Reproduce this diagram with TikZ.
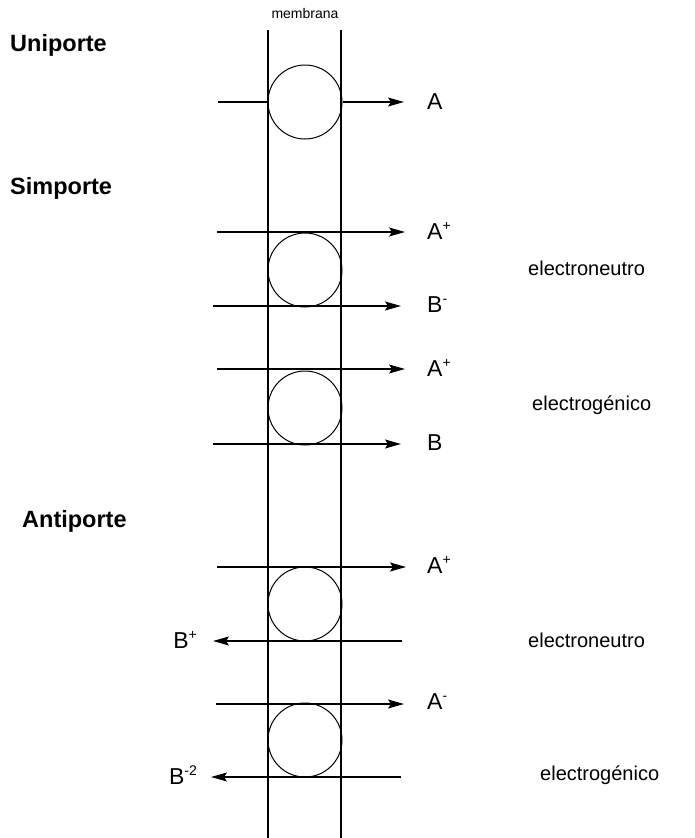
\documentclass[tikz,border=0pt]{standalone}
\usepackage{fontspec}
\setmainfont{Liberation Sans}
\usetikzlibrary{arrows.meta}
\newcommand\supx[1]{\raisebox{9.5pt}{\fontsize{14}{14}\selectfont #1}}
\begin{document}
\begin{tikzpicture}[x=1pt,y=-1pt,
  mem/.style={line width=1.2pt},
  carrier/.style={draw,circle,minimum size=74pt,inner sep=0pt,line width=1pt},
  flow/.style={line width=1.2pt,-{Stealth[length=16pt,width=9pt,inset=3pt]}},
  plain/.style={line width=1.2pt},
  ion/.style={font=\fontsize{23}{27}\selectfont,inner sep=0pt,anchor=west},
  head/.style={font=\bfseries\fontsize{23.5}{27}\selectfont,inner sep=0pt,anchor=west},
  kind/.style={font=\fontsize{20}{24}\selectfont,inner sep=0pt,anchor=west}]
\useasboundingbox (0,0) rectangle (694,838);

% membrane
\node[font=\fontsize{14}{16}\selectfont,inner sep=0pt] (mem) at (305,13) {membrana};
\coordinate (mlt) at (268,30); \coordinate (mlb) at (268,838);
\coordinate (mrt) at (341,30); \coordinate (mrb) at (341,838);
\draw[mem] (mlt) -- (mlb);
\draw[mem] (mrt) -- (mrb);

% headings
\node[head] (uni) at (10,45) {Uniporte};
\node[head] (sim) at (10,188) {Simporte};
\node[head] (anti) at (22,521) {Antiporte};

% carriers
\node[carrier] (c1) at (305,102) {};
\node[carrier] (c2) at (305,270) {};
\node[carrier] (c3) at (305,408) {};
\node[carrier] (c4) at (305,604) {};
\node[carrier] (c5) at (305,740) {};

% Uniporte
\node[ion] (l1) at (427,102) {A};
\coordinate (s1) at (218,102);
\coordinate (e1) at (404,102);
\draw[plain] (s1) -- (c1.west);
\draw[flow] (c1.east) -- (e1);

% Simporte electroneutro
\node[ion] (l2a) at (427,231) {A\supx{+}};
\node[ion] (l2b) at (427,305) {B\supx{-}};
\coordinate (s2a) at (217,232); \coordinate (e2a) at (405,232);
\coordinate (s2b) at (213,306); \coordinate (e2b) at (401,306);
\draw[flow] (s2a) -- (e2a);
\draw[flow] (s2b) -- (e2b);
\node[kind] (k2) at (528,268) {electroneutro};

% Simporte electrogenico
\node[ion] (l3a) at (427,368) {A\supx{+}};
\node[ion] (l3b) at (427,443) {B};
\coordinate (s3a) at (217,369); \coordinate (e3a) at (405,369);
\coordinate (s3b) at (213,444); \coordinate (e3b) at (401,444);
\draw[flow] (s3a) -- (e3a);
\draw[flow] (s3b) -- (e3b);
\node[kind] (k3) at (532,405) {electrogénico};

% Antiporte electroneutro
\node[ion] (l4a) at (427,565) {A\supx{+}};
\node[ion,anchor=east] (l4b) at (197,640) {B\supx{+}};
\coordinate (s4a) at (217,567); \coordinate (e4a) at (406,567);
\coordinate (s4b) at (402,641); \coordinate (e4b) at (213,641);
\draw[flow] (s4a) -- (e4a);
\draw[flow] (s4b) -- (e4b);
\node[kind] (k4) at (528,640) {electroneutro};

% Antiporte electrogenico
\node[ion] (l5a) at (427,702) {A\supx{-}};
\node[ion,anchor=east] (l5b) at (197,775) {B\supx{-2}};
\coordinate (s5a) at (216,704); \coordinate (e5a) at (404,704);
\coordinate (s5b) at (401,777); \coordinate (e5b) at (211,777);
\draw[flow] (s5a) -- (e5a);
\draw[flow] (s5b) -- (e5b);
\node[kind] (k5) at (540,775) {electrogénico};
\end{tikzpicture}
\end{document}
